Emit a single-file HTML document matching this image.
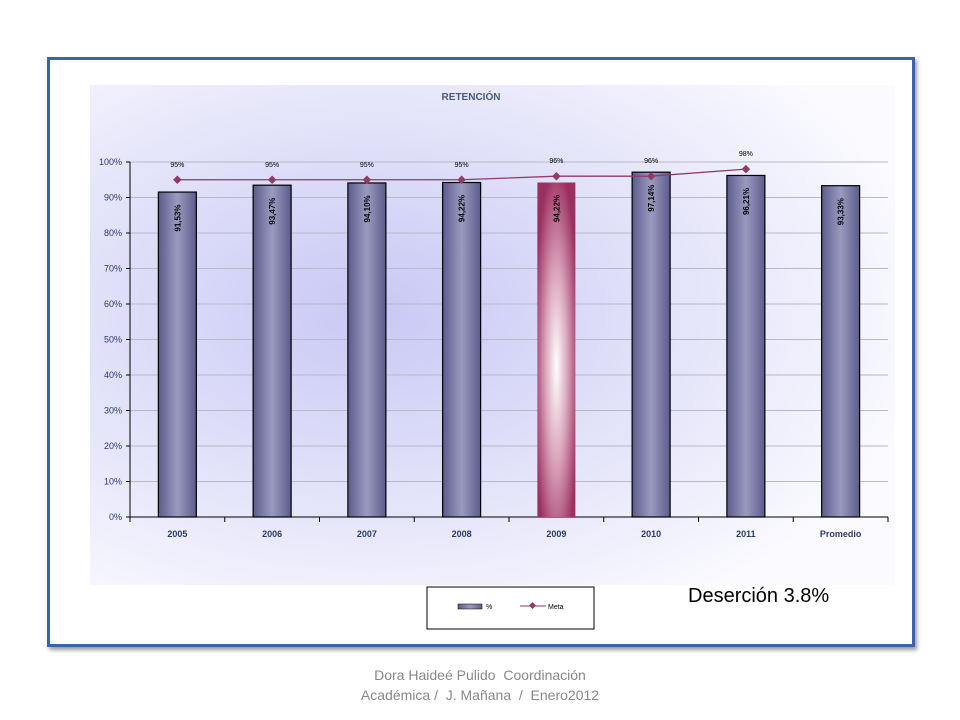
<!DOCTYPE html>
<html><head><meta charset="utf-8"><style>
body{margin:0;width:960px;height:720px;background:#fff;font-family:"Liberation Sans",sans-serif;position:relative;overflow:hidden}
#frame{position:absolute;left:47px;top:57px;width:862px;height:584px;border:3px solid #3a64a8;box-shadow:2px 3px 4px #999;background:#fff}
#foot{position:absolute;left:0;width:960px;top:665px;text-align:center;color:#888;font-size:14px;line-height:20px}
#des{position:absolute;left:688px;top:585px;font-size:20px;color:#000}
</style></head><body>
<div id="frame"></div>
<svg width="960" height="720" style="position:absolute;left:0;top:0">
<defs>
<radialGradient id="bg" cx="0.35" cy="0.45" r="0.7"><stop offset="0" stop-color="#c8c8f6"/><stop offset="0.6" stop-color="#e6e6fa"/><stop offset="1" stop-color="#fafaff"/></radialGradient>
<linearGradient id="bar" x1="0" x2="1"><stop offset="0" stop-color="#5c5c8c"/><stop offset="0.5" stop-color="#9a9ac0"/><stop offset="1" stop-color="#5c5c8c"/></linearGradient>
<radialGradient id="hi" cx="0.5" cy="0.55" r="0.6"><stop offset="0" stop-color="#ffffff"/><stop offset="0.5" stop-color="#d8a0b8"/><stop offset="1" stop-color="#9a3060"/></radialGradient>
</defs>
<rect x="90" y="85" width="805" height="500" fill="url(#bg)"/>
<text x="471" y="100" font-size="10" font-weight="bold" fill="#4a5a7a" text-anchor="middle">RETENCIÓN</text>
<g id="g"></g>
<rect x="427" y="587" width="167" height="42" fill="#fff" stroke="#000"/>
<rect x="458" y="604" width="24" height="5" fill="url(#bar)" stroke="#000" stroke-width="0.5"/>
<text x="486" y="609" font-size="7" fill="#000">%</text>
<line x1="520" y1="606" x2="546" y2="606" stroke="#903a68"/>
<rect x="530" y="603" width="5" height="5" fill="#903a68" transform="rotate(45 532.5 605.5)"/>
<text x="548" y="609" font-size="7" fill="#000">Meta</text>
</svg>
<div id="des">Deserción 3.8%</div>
<div id="foot">Dora Haideé Pulido &nbsp;Coordinación<br>Académica / &nbsp;J. Mañana &nbsp;/ &nbsp;Enero2012</div>
<script>
const categories=["2005","2006","2007","2008","2009","2010","2011","Promedio"];
const values=[91.53,93.47,94.10,94.22,94.22,97.14,96.21,93.33];
const valueLabels=["91,53%","93,47%","94,10%","94,22%","94,22%","97,14%","96,21%","93,33%"];
const meta=[95,95,95,95,96,96,98];
const ticks=[0,10,20,30,40,50,60,70,80,90,100];
const NS="http://www.w3.org/2000/svg",g=document.getElementById('g');
const X0=130,X1=888,Y0=517,Y1=162;
const bw=(X1-X0)/categories.length;
const x=i=>X0+bw*(i+0.5), y=v=>Y0-(v/100)*(Y0-Y1);
function mk(t,a){const e=document.createElementNS(NS,t);for(const k in a)e.setAttribute(k,a[k]);g.appendChild(e);return e;}
ticks.forEach(t=>{
 const l=mk('line',{x1:X0,x2:X1,y1:y(t),y2:y(t),stroke:t?'#b8b8c8':'#000','stroke-width':1});
 
 mk('line',{x1:X0-4,x2:X0,y1:y(t),y2:y(t),stroke:'#000'});
 const tx=mk('text',{x:X0-8,y:y(t)+3,'font-size':9,fill:'#2a3a6a','text-anchor':'end'});tx.textContent=t+'%';
 
});
mk('line',{x1:X0,x2:X0,y1:Y1,y2:Y0,stroke:'#000'});
categories.forEach((c,i)=>{
 mk('line',{x1:X0+bw*i,x2:X0+bw*i,y1:Y0,y2:Y0+5,stroke:'#000'});
 const b=mk('rect',{x:x(i)-19,y:y(values[i]),width:38,height:Y0-y(values[i]),fill:i==4?'url(#hi)':'url(#bar)',stroke:i==4?'none':'#000','stroke-width':1.2});
 
 const vt=mk('text',{x:0,y:0,'font-size':8,'font-weight':'bold',fill:'#000','text-anchor':'middle',transform:`translate(${x(i)+3},${y(values[i])+26}) rotate(-90)`});
 vt.textContent=valueLabels[i];
 const ct=mk('text',{x:x(i),y:Y0+20,'font-size':9,'font-weight':'bold',fill:'#2a3a6a','text-anchor':'middle'});
 ct.textContent=c;
});
mk('line',{x1:X1,x2:X1,y1:Y0,y2:Y0+5,stroke:'#000'});
const pl=mk('polyline',{points:meta.map((m,i)=>x(i)+','+y(m)).join(' '),fill:'none',stroke:'#903a68','stroke-width':1.3});

meta.forEach((m,i)=>{
 const d=mk('rect',{x:x(i)-3,y:y(m)-3,width:6,height:6,fill:'#903a68',transform:`rotate(45 ${x(i)} ${y(m)})`});
 
 const t=mk('text',{x:x(i),y:y(m)-13,'font-size':7,fill:'#000','text-anchor':'middle'});
 t.textContent=m+'%';
});
</script>
</body></html>
